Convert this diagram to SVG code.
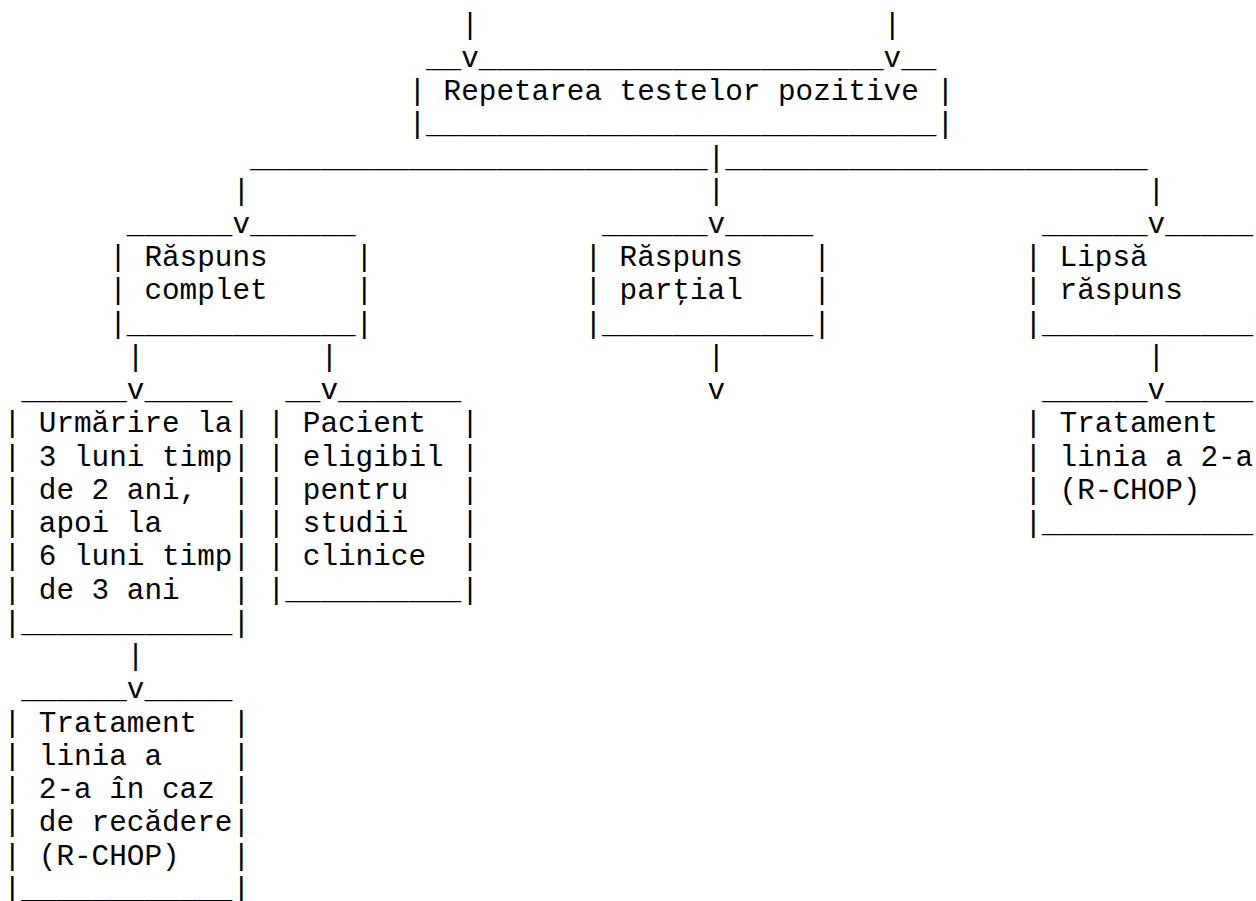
<svg xmlns="http://www.w3.org/2000/svg" width="1256" height="901" viewBox="0 0 1256 901" xml:space="preserve">
<style>
.t{font-family:"Courier New","Nimbus Mono PS","FreeMono","Liberation Mono",monospace;font-size:29.33px;fill:#000;white-space:pre}
</style>
<rect width="1256" height="901" fill="#fff"/>
<g id="connectors" class="t">
<text x="461.2" y="33.5">|</text>
<text x="883.6" y="33.5">|</text>
<text x="461.2" y="66.7">v</text>
<text x="883.6" y="66.7">v</text>
<text y="166.5"><tspan x="250" textLength="457.6" lengthAdjust="spacingAndGlyphs">__________________________</tspan><tspan x="707.6">|</tspan><tspan x="725.2" textLength="422.4" lengthAdjust="spacingAndGlyphs">________________________</tspan></text>
<text y="199.7"><tspan x="232.4">|</tspan><tspan x="707.6">|</tspan><tspan x="1147.6">|</tspan></text>
<text y="232.9"><tspan x="232.4">v</tspan><tspan x="707.6">v</tspan><tspan x="1147.6">v</tspan></text>
<text y="365.9"><tspan x="126.8">|</tspan><tspan x="320.4">|</tspan><tspan x="707.6">|</tspan><tspan x="1147.6">|</tspan></text>
<text y="399.1"><tspan x="126.8">v</tspan><tspan x="320.4">v</tspan><tspan x="707.6">v</tspan><tspan x="1147.6">v</tspan></text>
<text x="126.8" y="665.1">|</text>
<text x="126.8" y="698.3">v</text>
</g>
<g id="n-repetarea" class="t">
<text y="66.7"><tspan x="426">__</tspan><tspan x="478.8" textLength="404.8" lengthAdjust="spacingAndGlyphs">_______________________</tspan><tspan x="901.2">__</tspan></text>
<text y="100"><tspan x="408.4">|</tspan><tspan x="443.6">Repetarea testelor pozitive</tspan><tspan x="936.4">|</tspan></text>
<text y="133.2"><tspan x="408.4">|</tspan><tspan x="426" textLength="510.4" lengthAdjust="spacingAndGlyphs">_____________________________</tspan><tspan x="936.4">|</tspan></text>
</g>
<g id="n-complet" class="t">
<text y="232.9"><tspan x="126.8" textLength="105.6" lengthAdjust="spacingAndGlyphs">______</tspan><tspan x="250" textLength="105.6" lengthAdjust="spacingAndGlyphs">______</tspan></text>
<text y="266.2"><tspan x="109.2">|</tspan><tspan x="144.4">Răspuns</tspan><tspan x="355.6">|</tspan></text>
<text y="299.4"><tspan x="109.2">|</tspan><tspan x="144.4">complet</tspan><tspan x="355.6">|</tspan></text>
<text y="332.7"><tspan x="109.2">|</tspan><tspan x="126.8" textLength="228.8" lengthAdjust="spacingAndGlyphs">_____________</tspan><tspan x="355.6">|</tspan></text>
</g>
<g id="n-partial" class="t">
<text y="232.9"><tspan x="602" textLength="105.6" lengthAdjust="spacingAndGlyphs">______</tspan><tspan x="725.2" textLength="88" lengthAdjust="spacingAndGlyphs">_____</tspan></text>
<text y="266.2"><tspan x="584.4">|</tspan><tspan x="619.6">Răspuns</tspan><tspan x="813.2">|</tspan></text>
<text y="299.4"><tspan x="584.4">|</tspan><tspan x="619.6">parţial</tspan><tspan x="813.2">|</tspan></text>
<text y="332.7"><tspan x="584.4">|</tspan><tspan x="602" textLength="211.2" lengthAdjust="spacingAndGlyphs">____________</tspan><tspan x="813.2">|</tspan></text>
</g>
<g id="n-lipsa" class="t">
<text y="232.9"><tspan x="1042" textLength="105.6" lengthAdjust="spacingAndGlyphs">______</tspan><tspan x="1165.2" textLength="88" lengthAdjust="spacingAndGlyphs">_____</tspan></text>
<text y="266.2"><tspan x="1024.4">|</tspan><tspan x="1059.6">Lipsă</tspan></text>
<text y="299.4"><tspan x="1024.4">|</tspan><tspan x="1059.6">răspuns</tspan></text>
<text y="332.7"><tspan x="1024.4">|</tspan><tspan x="1042" textLength="211.2" lengthAdjust="spacingAndGlyphs">____________</tspan></text>
</g>
<g id="n-urmarire" class="t">
<text y="399.1"><tspan x="21.2" textLength="105.6" lengthAdjust="spacingAndGlyphs">______</tspan><tspan x="144.4" textLength="88" lengthAdjust="spacingAndGlyphs">_____</tspan></text>
<text y="432.4"><tspan x="3.6">|</tspan><tspan x="38.8">Urmărire la</tspan><tspan x="232.4">|</tspan></text>
<text y="465.6"><tspan x="3.6">|</tspan><tspan x="38.8">3 luni timp</tspan><tspan x="232.4">|</tspan></text>
<text y="498.9"><tspan x="3.6">|</tspan><tspan x="38.8">de 2 ani,</tspan><tspan x="232.4">|</tspan></text>
<text y="532.1"><tspan x="3.6">|</tspan><tspan x="38.8">apoi la</tspan><tspan x="232.4">|</tspan></text>
<text y="565.3"><tspan x="3.6">|</tspan><tspan x="38.8">6 luni timp</tspan><tspan x="232.4">|</tspan></text>
<text y="598.6"><tspan x="3.6">|</tspan><tspan x="38.8">de 3 ani</tspan><tspan x="232.4">|</tspan></text>
<text y="631.8"><tspan x="3.6">|</tspan><tspan x="21.2" textLength="211.2" lengthAdjust="spacingAndGlyphs">____________</tspan><tspan x="232.4">|</tspan></text>
</g>
<g id="n-pacient" class="t">
<text y="399.1"><tspan x="285.2">__</tspan><tspan x="338" textLength="123.2" lengthAdjust="spacingAndGlyphs">_______</tspan></text>
<text y="432.4"><tspan x="267.6">|</tspan><tspan x="302.8">Pacient</tspan><tspan x="461.2">|</tspan></text>
<text y="465.6"><tspan x="267.6">|</tspan><tspan x="302.8">eligibil</tspan><tspan x="461.2">|</tspan></text>
<text y="498.9"><tspan x="267.6">|</tspan><tspan x="302.8">pentru</tspan><tspan x="461.2">|</tspan></text>
<text y="532.1"><tspan x="267.6">|</tspan><tspan x="302.8">studii</tspan><tspan x="461.2">|</tspan></text>
<text y="565.3"><tspan x="267.6">|</tspan><tspan x="302.8">clinice</tspan><tspan x="461.2">|</tspan></text>
<text y="598.6"><tspan x="267.6">|</tspan><tspan x="285.2" textLength="176" lengthAdjust="spacingAndGlyphs">__________</tspan><tspan x="461.2">|</tspan></text>
</g>
<g id="n-tratament-linia2" class="t">
<text y="399.1"><tspan x="1042" textLength="105.6" lengthAdjust="spacingAndGlyphs">______</tspan><tspan x="1165.2" textLength="88" lengthAdjust="spacingAndGlyphs">_____</tspan></text>
<text y="432.4"><tspan x="1024.4">|</tspan><tspan x="1059.6">Tratament</tspan></text>
<text y="465.6"><tspan x="1024.4">|</tspan><tspan x="1059.6">linia a 2-a</tspan></text>
<text y="498.9"><tspan x="1024.4">|</tspan><tspan x="1059.6">(R-CHOP)</tspan></text>
<text y="532.1"><tspan x="1024.4">|</tspan><tspan x="1042" textLength="211.2" lengthAdjust="spacingAndGlyphs">____________</tspan></text>
</g>
<g id="n-tratament-recadere" class="t">
<text y="698.3"><tspan x="21.2" textLength="105.6" lengthAdjust="spacingAndGlyphs">______</tspan><tspan x="144.4" textLength="88" lengthAdjust="spacingAndGlyphs">_____</tspan></text>
<text y="731.5"><tspan x="3.6">|</tspan><tspan x="38.8">Tratament</tspan><tspan x="232.4">|</tspan></text>
<text y="764.8"><tspan x="3.6">|</tspan><tspan x="38.8">linia a</tspan><tspan x="232.4">|</tspan></text>
<text y="798"><tspan x="3.6">|</tspan><tspan x="38.8">2-a în caz</tspan><tspan x="232.4">|</tspan></text>
<text y="831.3"><tspan x="3.6">|</tspan><tspan x="38.8">de recădere</tspan><tspan x="232.4">|</tspan></text>
<text y="864.5"><tspan x="3.6">|</tspan><tspan x="38.8">(R-CHOP)</tspan><tspan x="232.4">|</tspan></text>
<text y="897.7"><tspan x="3.6">|</tspan><tspan x="21.2" textLength="211.2" lengthAdjust="spacingAndGlyphs">____________</tspan><tspan x="232.4">|</tspan></text>
</g>
</svg>
